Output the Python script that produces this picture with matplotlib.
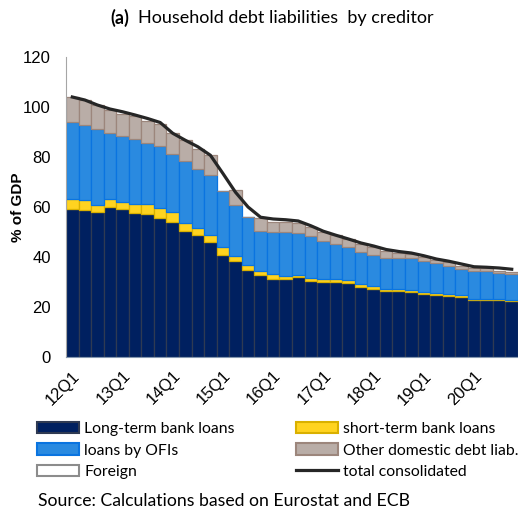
import matplotlib
matplotlib.use('Agg')
import matplotlib.pyplot as plt
from matplotlib.patches import Patch
from matplotlib.lines import Line2D
import numpy as np

# quarters 12Q1 .. 20Q4
quarters = [f'{y}Q{q}' for y in range(12, 21) for q in range(1, 5)]
tick_labels = [f'{y}Q1' for y in range(12, 21)]

# % of GDP
long_term = [59.3, 59.0, 58.2, 60.2, 59.3, 57.6, 57.3, 55.5, 54.1, 50.3, 49.0, 45.9,
             40.9, 38.3, 34.8, 32.8, 31.4, 31.4, 32.0, 30.6, 30.2, 30.2, 29.8, 28.0,
             27.2, 26.6, 26.6, 26.2, 25.4, 25.0, 24.5, 24.1, 22.9, 22.9, 22.9, 22.4]
short_term = [3.8, 3.8, 2.8, 2.9, 2.9, 3.8, 4.0, 4.2, 3.9, 3.3, 2.8, 3.0,
              3.0, 2.0, 2.0, 1.6, 1.7, 1.1, 1.0, 1.1, 1.1, 1.1, 1.1, 1.2,
              1.1, 0.8, 0.7, 0.7, 0.5, 0.5, 0.6, 0.6, 0.4, 0.4, 0.4, 0.4]
ofis = [31.0, 30.2, 30.2, 26.4, 26.3, 26.0, 24.3, 24.8, 23.4, 24.7, 23.5, 24.1,
        22.4, 20.6, 19.1, 16.2, 16.9, 17.5, 16.6, 16.6, 15.3, 14.1, 13.0, 12.8,
        12.5, 12.2, 12.5, 12.7, 12.7, 12.0, 11.4, 10.5, 11.2, 11.2, 10.2, 10.4]
other_dom = [9.9, 9.8, 9.7, 9.5, 8.8, 8.9, 8.8, 8.7, 8.1, 8.4, 7.8, 8.0,
             0.0, 5.8, 0.0, 4.9, 4.2, 4.1, 4.1, 3.8, 3.6, 3.5, 3.5, 3.2,
             3.3, 2.7, 1.8, 1.6, 1.3, 1.3, 1.4, 1.3, 1.0, 1.0, 1.0, 0.9]
foreign = [0.0] * 36
total_cons = [104.0, 102.8, 100.8, 99.2, 98.1, 96.8, 95.4, 93.8, 89.5, 86.7, 84.1, 80.7,
              73.4, 65.9, 60.0, 55.9, 55.2, 54.9, 54.4, 52.5, 50.3, 48.7, 47.2, 45.6,
              44.4, 43.0, 42.2, 41.6, 40.5, 39.2, 38.3, 37.2, 36.1, 35.9, 35.6, 35.1]

c_long, e_long = '#002060', '#2f3a52'
c_short, e_short = '#ffd320', '#d9b000'
c_ofi, e_ofi = '#2a8ae0', '#0a74e0'
c_other, e_other = '#b9ada7', '#9c867c'

plt.rcParams['font.family'] = ['Liberation Sans', 'DejaVu Sans']

fig = plt.figure(figsize=(5.18, 5.19), dpi=100)
ax = fig.add_axes([66/518, 1-357/519, 1-66/518, 300/519])

x = np.arange(len(quarters))
b1 = np.array(long_term)
b2 = b1 + np.array(short_term)
b3 = b2 + np.array(ofis)
b4 = b3 + np.array(other_dom)

ax.bar(x, long_term, width=1.0, color=c_long, edgecolor=e_long, linewidth=0.9)
ax.bar(x, short_term, bottom=b1, width=1.0, color=c_short, edgecolor=e_short, linewidth=0.9)
ax.bar(x, ofis, bottom=b2, width=1.0, color=c_ofi, edgecolor=e_ofi, linewidth=0.9)
ax.bar(x, other_dom, bottom=b3, width=1.0, color=c_other, edgecolor=e_other, linewidth=0.9)
ax.bar(x, foreign, bottom=b4, width=1.0, color='white', linewidth=0)
ax.plot(x, total_cons, color='#262626', linewidth=2.3, zorder=5)

ax.set_xlim(-0.5, 35.5)
ax.set_ylim(0, 120)
ax.set_yticks(range(0, 121, 20))
ax.set_xticks(x[::4])
ax.set_xticklabels(tick_labels, rotation=45, ha='right', va='top', rotation_mode='anchor')
ax.tick_params(axis='both', length=0, labelsize=12)
ax.tick_params(axis='y', pad=11)
ax.tick_params(axis='x', pad=8)
for s in ['top', 'right']:
    ax.spines[s].set_visible(False)
ax.spines['left'].set_color('#a6a6a6')
ax.spines['bottom'].set_color('#8497b0')

fig.text(18/518, 1-207/519, '% of GDP', fontsize=11, fontweight='bold', rotation=90,
         ha='center', va='center')

fig.text(110/518, 1-18/519, '(a)', fontsize=13, fontweight='bold', family='Lato', va='center')
fig.text(138/518, 1-18/519, 'Household debt liabilities  by creditor', fontsize=13,
         family='Lato', va='center')

handles = [
    Patch(facecolor=c_long, edgecolor=e_long, linewidth=1.5, label='Long-term bank loans'),
    Patch(facecolor=c_ofi, edgecolor=e_ofi, linewidth=1.5, label='loans by OFIs'),
    Patch(facecolor='white', edgecolor='#8c8c8c', linewidth=1.5, label='Foreign'),
    Patch(facecolor=c_short, edgecolor=e_short, linewidth=1.5, label='short-term bank loans'),
    Patch(facecolor=c_other, edgecolor=e_other, linewidth=1.5, label='Other domestic debt liab.'),
    Line2D([0], [0], color='#262626', linewidth=2.3, label='total consolidated'),
]
fig.legend(handles=handles, loc='upper left', bbox_to_anchor=(37/518, 1-422/519),
           ncol=2, frameon=False, borderpad=0, borderaxespad=0,
           handlelength=2.7, handleheight=0.75, handletextpad=0.3,
           labelspacing=0.45, columnspacing=3.9,
           prop={'family': 'Lato', 'size': 11.3})

fig.text(38/518, 1-501/519, 'Source: Calculations based on Eurostat and ECB', fontsize=12.7,
         family='Lato', va='center')

fig.savefig('out.png', dpi=100)
